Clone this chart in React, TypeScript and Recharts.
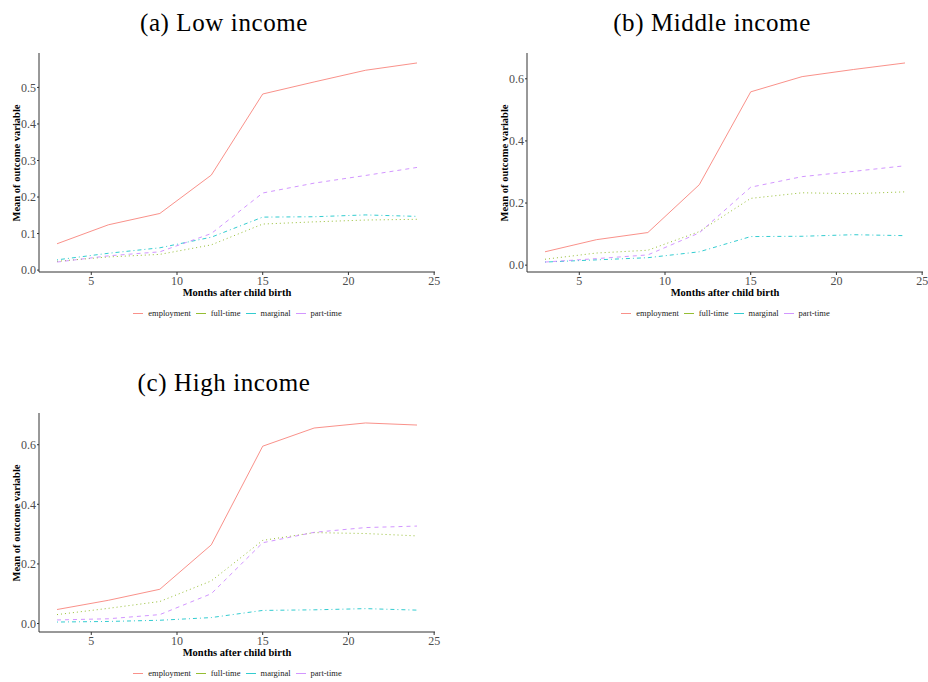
import React from 'react';
import { LineChart, Line, XAxis, YAxis, Legend } from 'recharts';

const months = [3, 6, 9, 12, 15, 18, 21, 24];

// (a) Low income
const lowEmployment = [0.072, 0.124, 0.155, 0.26, 0.482, 0.515, 0.547, 0.567];
const lowFullTime = [0.024, 0.036, 0.043, 0.069, 0.126, 0.132, 0.137, 0.139];
const lowMarginal = [0.028, 0.046, 0.061, 0.09, 0.145, 0.146, 0.151, 0.147];
const lowPartTime = [0.022, 0.039, 0.05, 0.1, 0.211, 0.238, 0.259, 0.281];

// (b) Middle income
const midEmployment = [0.043, 0.082, 0.105, 0.259, 0.558, 0.607, 0.63, 0.651];
const midFullTime = [0.019, 0.039, 0.048, 0.108, 0.215, 0.233, 0.23, 0.236];
const midMarginal = [0.01, 0.017, 0.024, 0.043, 0.092, 0.093, 0.098, 0.095];
const midPartTime = [0.01, 0.021, 0.033, 0.104, 0.251, 0.285, 0.302, 0.32];

// (c) High income
const highEmployment = [0.047, 0.078, 0.115, 0.264, 0.595, 0.656, 0.673, 0.666];
const highFullTime = [0.03, 0.051, 0.074, 0.143, 0.279, 0.305, 0.302, 0.294];
const highMarginal = [0.005, 0.007, 0.011, 0.02, 0.044, 0.046, 0.05, 0.045];
const highPartTime = [0.012, 0.016, 0.03, 0.1, 0.271, 0.306, 0.322, 0.327];

const xTicks = [5, 10, 15, 20, 25];
const lowTicks = [0, 0.1, 0.2, 0.3, 0.4, 0.5];
const wideTicks = [0, 0.2, 0.4, 0.6];

const seriesNames = ['employment', 'full-time', 'marginal', 'part-time'];
const colors = ['#F8766D', '#7CAE00', '#00BFC4', '#C77CFF'];
const dashes = ['0', '1 3', '1 3 4 3', '4 4'];

const FONT = '"Liberation Serif", "Times New Roman", serif';

function buildRows(values: number[][]) {
  return months.map((m, i) => {
    const row: Record<string, number> = { month: m };
    seriesNames.forEach((s, j) => (row[s] = values[j][i]));
    return row;
  });
}

// ggplot-style 5% expansion of the y range
function expandedDomain(values: number[][]): [number, number] {
  const all = values.flat();
  const lo = Math.min(...all);
  const hi = Math.max(...all);
  const pad = (hi - lo) * 0.05;
  return [lo - pad, hi + pad];
}

const renderLegend = () => (
  <div style={{ display: 'flex', justifyContent: 'center', alignItems: 'center', height: 14, fontFamily: FONT, fontSize: 8.5, color: '#222' }}>
    {seriesNames.map((s, i) => (
      <div key={s} style={{ display: 'flex', alignItems: 'center', marginRight: 5 }}>
        <div style={{ width: 10, height: 1, background: colors[i], opacity: 0.8, marginRight: 5 }} />
        <span>{s}</span>
      </div>
    ))}
  </div>
);

interface PanelProps {
  left: number;
  top: number;
  title: string;
  values: number[][];
  yTicks: number[];
}

function Panel({ left, top, title, values, yTicks }: PanelProps) {
  const data = buildRows(values);
  return (
    <div style={{ position: 'absolute', left, top, width: 464, height: 330 }}>
      <div style={{ position: 'absolute', left: 0, width: 448, top: 9, textAlign: 'center', fontFamily: FONT, fontSize: 25, letterSpacing: 0.6, color: '#000' }}>
        {title}
      </div>
      <div style={{ position: 'absolute', left: 16, top: 163, transform: 'translate(-50%, -50%) rotate(-90deg)', whiteSpace: 'nowrap', fontFamily: FONT, fontWeight: 'bold', fontSize: 10.5, color: '#000' }}>
        Mean of outcome variable
      </div>
      <div style={{ position: 'absolute', left: 0, top: 40 }}>
        <LineChart width={464} height={290} data={data} margin={{ top: 13, right: 29, left: 0, bottom: 0 }}>
          <XAxis
            dataKey="month"
            type="number"
            domain={[1.95, 25.05]}
            ticks={xTicks}
            allowDataOverflow
            height={34}
            tickSize={3}
            tickMargin={1}
            stroke="#333"
            tick={{ fill: '#4D4D4D', fontSize: 12, fontFamily: FONT }}
            label={{ value: 'Months after child birth', position: 'insideBottom', offset: 10, fill: '#000', fontSize: 10.5, fontWeight: 'bold', fontFamily: FONT }}
          />
          <YAxis
            type="number"
            domain={expandedDomain(values)}
            ticks={yTicks}
            allowDataOverflow
            width={39}
            tickSize={2}
            tickMargin={1}
            stroke="#333"
            tickFormatter={(v: number) => v.toFixed(1)}
            tick={{ fill: '#4D4D4D', fontSize: 12, fontFamily: FONT }}
          />
          <Legend verticalAlign="bottom" height={24} content={renderLegend} wrapperStyle={{ left: 39, width: 402 }} />
          {seriesNames.map((s, i) => (
            <Line
              key={s}
              dataKey={s}
              type="linear"
              stroke={colors[i]}
              strokeOpacity={0.8}
              strokeWidth={1}
              strokeDasharray={dashes[i]}
              dot={false}
              isAnimationActive={false}
            />
          ))}
        </LineChart>
      </div>
    </div>
  );
}

export default function App() {
  return (
    <div style={{ position: 'absolute', left: 0, top: 0, width: 928, height: 682, background: '#fff', overflow: 'hidden' }}>
      <Panel left={0} top={0} title="(a) Low income" values={[lowEmployment, lowFullTime, lowMarginal, lowPartTime]} yTicks={lowTicks} />
      <Panel left={488} top={0} title="(b) Middle income" values={[midEmployment, midFullTime, midMarginal, midPartTime]} yTicks={wideTicks} />
      <Panel left={0} top={360} title="(c) High income" values={[highEmployment, highFullTime, highMarginal, highPartTime]} yTicks={wideTicks} />
    </div>
  );
}
